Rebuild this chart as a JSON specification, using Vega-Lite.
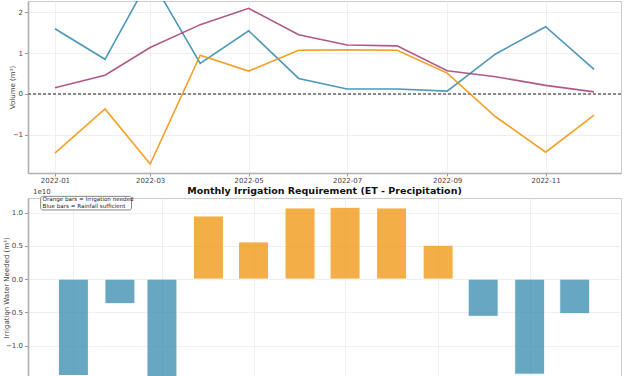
{
  "$schema": "https://vega.github.io/schema/vega-lite/v6.json",
  "padding": {"left": 1, "top": 0, "right": 4, "bottom": 0},
  "background": "white",
  "spacing": 25,
  "bounds": "flush",
  "config": {
    "font": "DejaVu Sans",
    "view": {"stroke": "#cccccc", "strokeWidth": 1},
    "axis": {
      "labelFont": "DejaVu Sans", "titleFont": "DejaVu Sans",
      "labelFontSize": 7, "titleFontSize": 7, "titleFontWeight": "normal",
      "labelColor": "#444444", "titleColor": "#444444",
      "tickColor": "#999999", "tickSize": 3.5, "labelPadding": 2,
      "gridColor": "#ebebeb", "gridWidth": 0.8,
      "domainColor": "#b0b0b0", "domainWidth": 1.6
    }
  },
  "datasets": {
    "monthly": [
      {"month": "2022-01-01", "precip": 1.60, "et": 0.15, "need": -1.45},
      {"month": "2022-02-01", "precip": 0.85, "et": 0.46, "need": -0.37},
      {"month": "2022-03-01", "precip": 2.86, "et": 1.14, "need": -1.72},
      {"month": "2022-04-01", "precip": 0.75, "et": 1.70, "need": 0.95},
      {"month": "2022-05-01", "precip": 1.55, "et": 2.10, "need": 0.56},
      {"month": "2022-06-01", "precip": 0.38, "et": 1.45, "need": 1.07},
      {"month": "2022-07-01", "precip": 0.12, "et": 1.20, "need": 1.08},
      {"month": "2022-08-01", "precip": 0.12, "et": 1.18, "need": 1.07},
      {"month": "2022-09-01", "precip": 0.07, "et": 0.57, "need": 0.51},
      {"month": "2022-10-01", "precip": 0.98, "et": 0.42, "need": -0.56},
      {"month": "2022-11-01", "precip": 1.65, "et": 0.21, "need": -1.43},
      {"month": "2022-12-01", "precip": 0.60, "et": 0.05, "need": -0.52}
    ],
    "note": [
      {"label": "Orange bars = Irrigation needed\nBlue bars = Rainfall sufficient"}
    ],
    "offset": [{"label": "1e10"}]
  },
  "vconcat": [
    {
      "width": 593,
      "height": 172,
      "data": {"name": "monthly"},
      "encoding": {
        "x": {
          "field": "month", "type": "temporal",
          "scale": {"type": "utc", "domain": [1639552320000, 1671295680000]},
          "axis": {
            "title": null, "labelExpr": "utcFormat(datum.value, '%Y-%m')",
            "labelPadding": 0, "tickSize": 3,
            "values": [1640995200000, 1646092800000, 1651363200000, 1656633600000, 1661990400000, 1667260800000],
            "grid": true
          }
        }
      },
      "layer": [
        {
          "mark": {"type": "rule", "color": "#888888", "strokeDash": [3, 2], "strokeWidth": 1, "opacity": 0.8},
          "encoding": {
            "x": null,
            "y": {"datum": 0, "type": "quantitative"}
          }
        },
        {
          "mark": {"type": "line", "color": "#2E86AB", "strokeWidth": 1.6, "opacity": 0.85, "clip": true},
          "encoding": {
            "y": {
              "field": "precip", "type": "quantitative",
              "scale": {"domain": [-1.94, 2.28], "nice": false, "zero": false},
              "axis": {
                "title": "Volume (m³)", "titleX": -13,
                "values": [-1, 0, 1, 2], "format": "d", "grid": true
              }
            }
          }
        },
        {
          "mark": {"type": "line", "color": "#A23B72", "strokeWidth": 1.6, "opacity": 0.85, "clip": true},
          "encoding": {"y": {"field": "et", "type": "quantitative"}}
        },
        {
          "mark": {"type": "line", "color": "#F18F01", "strokeWidth": 1.6, "opacity": 0.85, "clip": true},
          "encoding": {"y": {"field": "need", "type": "quantitative"}}
        }
      ]
    },
    {
      "width": 593,
      "height": 179,
      "title": {
        "text": "Monthly Irrigation Requirement (ET - Precipitation)",
        "font": "DejaVu Sans", "fontSize": 9.5, "fontWeight": "bold",
        "color": "#111111", "anchor": "middle", "offset": -7.5
      },
      "layer": [
        {
          "data": {"name": "monthly"},
          "mark": {"type": "bar", "width": 30, "opacity": 0.72, "stroke": "white", "strokeWidth": 1, "clip": true},
          "encoding": {
            "x": {
              "field": "month", "type": "temporal",
              "scale": {"type": "utc", "domain": [1638670000000, 1672230000000]},
              "axis": {
                "title": null, "labels": false, "ticks": false, "domain": false, "grid": true,
                "values": [1640995200000, 1646092800000, 1651363200000, 1656633600000, 1661990400000, 1667260800000]
              }
            },
            "y": {
              "field": "need", "type": "quantitative",
              "scale": {"domain": [-1.472, 1.22], "nice": false, "zero": false},
              "axis": {
                "title": "Irrigation Water Needed (m³)", "titleX": -19,
                "values": [-1.0, -0.5, 0.0, 0.5, 1.0], "format": ".1f", "grid": true
              }
            },
            "color": {
              "field": "need", "type": "quantitative",
              "scale": {"type": "threshold", "domain": [0], "range": ["#2E86AB", "#F18F01"]},
              "legend": null
            }
          }
        },
        {
          "mark": {"type": "rule", "color": "#555555", "strokeWidth": 1.4, "opacity": 0.8},
          "encoding": {"y": {"datum": 0, "type": "quantitative"}}
        },
        {
          "data": {"name": "note"},
          "mark": {"type": "rect", "fill": "white", "fillOpacity": 0.85, "stroke": "#888888", "strokeWidth": 1, "cornerRadius": 2, "clip": false},
          "encoding": {
            "x": {"datum": 1639111680000, "type": "temporal"},
            "x2": {"datum": 1644338880000},
            "y": {"datum": 1.245, "type": "quantitative"},
            "y2": {"datum": 1.04}
          }
        },
        {
          "data": {"name": "note"},
          "mark": {
            "type": "text", "align": "left", "baseline": "top", "lineBreak": "\n",
            "fontSize": 5.6, "color": "#222222", "clip": false, "lineHeight": 6.6
          },
          "encoding": {
            "x": {"datum": 1639224000000, "type": "temporal"},
            "y": {"datum": 1.232, "type": "quantitative"},
            "text": {"field": "label"}
          }
        },
        {
          "data": {"name": "offset"},
          "mark": {
            "type": "text", "align": "left", "baseline": "bottom",
            "fontSize": 7, "color": "#444444", "clip": false
          },
          "encoding": {
            "x": {"datum": 1638670000000, "type": "temporal"},
            "y": {"datum": 1.272, "type": "quantitative"},
            "text": {"field": "label"}
          }
        }
      ]
    }
  ]
}
